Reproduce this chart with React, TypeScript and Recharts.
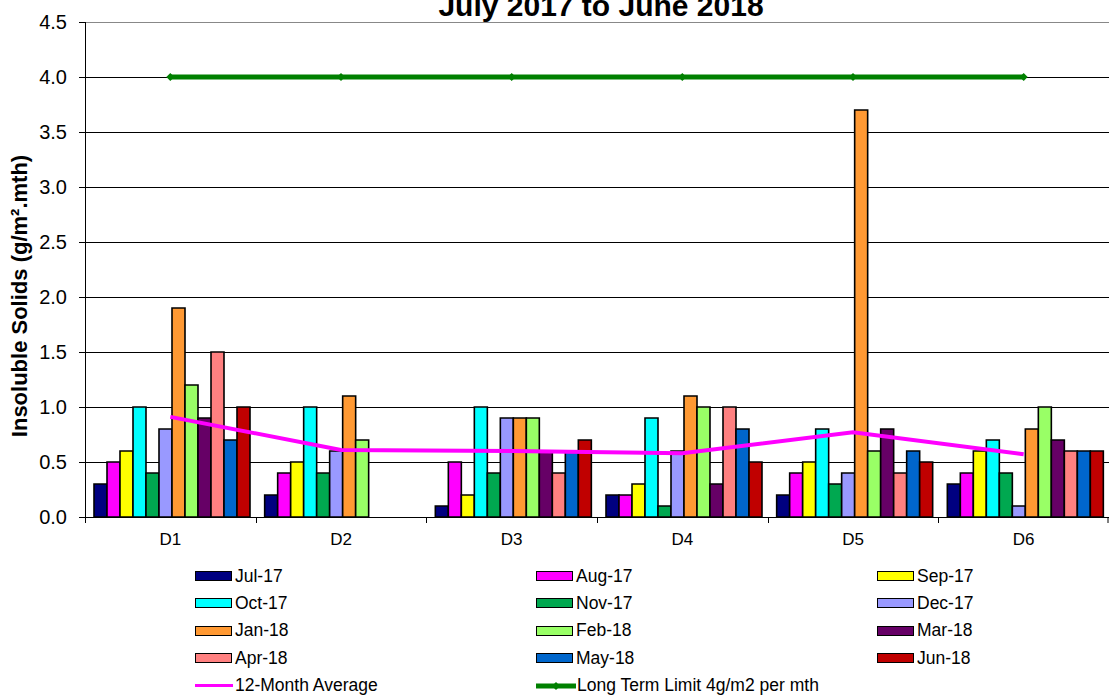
import {
  ComposedChart,
  Bar,
  Line,
  XAxis,
  YAxis,
  CartesianGrid,
  ReferenceLine,
} from 'recharts';

const sites = ['D1', 'D2', 'D3', 'D4', 'D5', 'D6'];

const months = [
  'Jul-17', 'Aug-17', 'Sep-17', 'Oct-17', 'Nov-17', 'Dec-17',
  'Jan-18', 'Feb-18', 'Mar-18', 'Apr-18', 'May-18', 'Jun-18',
];

const monthColors = [
  '#000080', '#FF00FF', '#FFFF00', '#00FFFF', '#00A850', '#9999FF',
  '#FF9933', '#99FF66', '#660066', '#FF8080', '#0066CC', '#C00000',
];

// one row per site, one value per month (null = no sample)
const d1 = [0.3, 0.5, 0.6, 1.0, 0.4, 0.8, 1.9, 1.2, 0.9, 1.5, 0.7, 1.0];
const d2 = [0.2, 0.4, 0.5, 1.0, 0.4, 0.6, 1.1, 0.7, null, null, null, null];
const d3 = [0.1, 0.5, 0.2, 1.0, 0.4, 0.9, 0.9, 0.9, 0.6, 0.4, 0.6, 0.7];
const d4 = [0.2, 0.2, 0.3, 0.9, 0.1, 0.6, 1.1, 1.0, 0.3, 1.0, 0.8, 0.5];
const d5 = [0.2, 0.4, 0.5, 0.8, 0.3, 0.4, 3.7, 0.6, 0.8, 0.4, 0.6, 0.5];
const d6 = [0.3, 0.4, 0.6, 0.7, 0.4, 0.1, 0.8, 1.0, 0.7, 0.6, 0.6, 0.6];

const average = [0.91, 0.61, 0.6, 0.58, 0.77, 0.57];
const limit = [4.0, 4.0, 4.0, 4.0, 4.0, 4.0];

const yTicks = [0, 0.5, 1.0, 1.5, 2.0, 2.5, 3.0, 3.5, 4.0, 4.5];

const siteValues = [d1, d2, d3, d4, d5, d6];

const data = sites.map((site, i) => {
  const row: Record<string, any> = { site, avg: average[i], limit: limit[i] };
  months.forEach((m, j) => {
    row[m] = siteValues[i][j];
  });
  return row;
});

const FONT = '"Liberation Sans", Arial, sans-serif';
const PLOT_WIDTH = 1024;
const BAND = PLOT_WIDTH / sites.length;

const XTick = (props: any) => {
  const { x, y, payload, index } = props;
  const left = Math.round(x - BAND / 2) + 0.5;
  return (
    <g>
      <line x1={left} y1={y} x2={left} y2={y + 6} stroke="#000" />
      {index === sites.length - 1 && (
        <line x1={x + BAND / 2 - 1} y1={y} x2={x + BAND / 2 - 1} y2={y + 6} stroke="#000" />
      )}
      <text x={x} y={y + 28} textAnchor="middle" fontSize={17} fontFamily={FONT} fill="#000">
        {payload.value}
      </text>
    </g>
  );
};

const Diamond = (props: any) => {
  const { cx, cy } = props;
  if (cx == null || cy == null) return null;
  return <path d={`M${cx - 4},${cy} L${cx},${cy - 4} L${cx + 4},${cy} L${cx},${cy + 4} Z`} fill="#008000" />;
};

const legendItems = [
  ...months.map((m, i) => ({ label: m, color: monthColors[i], kind: 'bar' })),
  { label: '12-Month Average', color: '#FF00FF', kind: 'avg' },
  { label: 'Long Term Limit 4g/m2 per mth', color: '#008000', kind: 'limit' },
];

const colX = [195, 536, 877];

export default function App() {
  return (
    <div
      style={{
        position: 'absolute',
        left: 0,
        top: 0,
        width: 1109,
        height: 695,
        background: '#fff',
        overflow: 'hidden',
        fontFamily: FONT,
      }}
    >
      <div style={{ position: 'absolute', left: 0, top: 0 }}>
        <ComposedChart
          width={1109}
          height={560}
          data={data}
          margin={{ top: 22, right: 0, left: 0, bottom: 13 }}
          barCategoryGap={9}
          barGap={0}
        >
          <CartesianGrid
            horizontal
            vertical={false}
            stroke="#000"
            strokeOpacity={1}
            shapeRendering="crispEdges"
          />
          <XAxis
            dataKey="site"
            height={30}
            tickSize={0}
            tickMargin={0}
            tickLine={false}
            axisLine={{ stroke: '#000', shapeRendering: 'crispEdges' }}
            tick={<XTick />}
            interval={0}
          />
          <YAxis
            width={85}
            domain={[0, 4.5]}
            ticks={yTicks}
            tickFormatter={(v: number) => v.toFixed(1)}
            tick={{ fill: '#000', fontSize: 20, fontFamily: FONT }}
            tickSize={6}
            tickMargin={12}
            tickLine={{ stroke: '#000', shapeRendering: 'crispEdges' }}
            axisLine={{ stroke: '#000', shapeRendering: 'crispEdges' }}
            allowDataOverflow
          />
          <ReferenceLine y={4.5} stroke="#888" shapeRendering="crispEdges" />
          {months.map((m, i) => (
            <Bar
              key={m}
              dataKey={m}
              fill={monthColors[i]}
              stroke="#000"
              strokeWidth={1.6}
              isAnimationActive={false}
            />
          ))}
          <Line
            dataKey="avg"
            stroke="#FF00FF"
            strokeWidth={4}
            dot={false}
            activeDot={false}
            type="linear"
            isAnimationActive={false}
          />
          <Line
            dataKey="limit"
            stroke="#008000"
            strokeWidth={5}
            dot={<Diamond />}
            activeDot={false}
            type="linear"
            isAnimationActive={false}
          />
        </ComposedChart>
      </div>
      <div
        style={{
          position: 'absolute',
          left: 85,
          width: 1024,
          top: 15,
          height: 0,
          display: 'flex',
          justifyContent: 'center',
          alignItems: 'flex-end',
          fontWeight: 'bold',
          fontSize: 30,
          lineHeight: 1,
          whiteSpace: 'nowrap',
        }}
      >
        <span style={{ display: 'block', transform: 'translate(4px, 6px)' }}>July 2017 to June 2018</span>
      </div>
      <div
        style={{
          position: 'absolute',
          left: 20,
          top: 296,
          transform: 'translate(-50%, -50%) rotate(-90deg)',
          whiteSpace: 'nowrap',
          fontWeight: 'bold',
          fontSize: 22,
        }}
      >
        Insoluble Solids (g/m².mth)
      </div>
      {legendItems.map((item, i) => {
        const col = i % 3;
        const row = Math.floor(i / 3);
        const left = colX[col];
        const cy = 576 + row * 27.4;
        return (
          <div
            key={item.label}
            style={{
              position: 'absolute',
              left,
              top: cy - 11,
              height: 22,
              display: 'flex',
              alignItems: 'center',
              fontSize: 17.5,
              whiteSpace: 'nowrap',
            }}
          >
            {item.kind === 'bar' && (
              <div
                style={{
                  width: 35,
                  height: 8,
                  background: item.color,
                  border: '1.5px solid #000',
                  marginRight: 3,
                }}
              />
            )}
            {item.kind === 'avg' && (
              <div style={{ width: 38, height: 3, background: item.color, marginRight: 2 }} />
            )}
            {item.kind === 'limit' && (
              <svg width={40} height={10} style={{ marginRight: 1 }}>
                <line x1={0} y1={5} x2={40} y2={5} stroke={item.color} strokeWidth={5} strokeLinecap="round" />
                <path d="M20,1 L24,5 L20,9 L16,5 Z" fill={item.color} />
              </svg>
            )}
            <span>{item.label}</span>
          </div>
        );
      })}
    </div>
  );
}
